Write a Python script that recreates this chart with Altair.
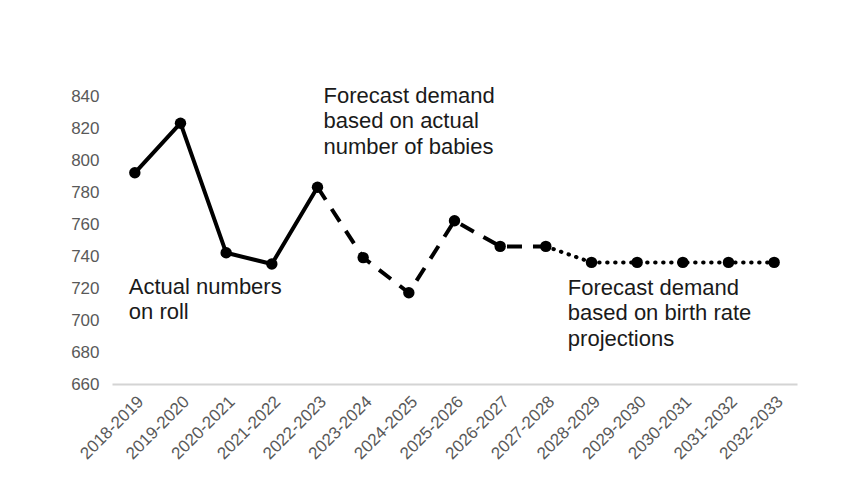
import altair as alt
import pandas as pd

years = ["2018-2019", "2019-2020", "2020-2021", "2021-2022", "2022-2023",
         "2023-2024", "2024-2025", "2025-2026", "2026-2027", "2027-2028",
         "2028-2029", "2029-2030", "2030-2031", "2031-2032", "2032-2033"]
values = [792, 823, 742, 735, 783, 739, 717, 762, 746, 746, 736, 736, 736, 736, 736]

solid_idx = [0, 1, 2, 3, 4]
dashed_idx = [4, 5, 6, 7, 8, 9]
dotted_idx = [9, 10, 11, 12, 13, 14]

ann_text = [["Actual numbers", "on roll"],
            ["Forecast demand", "based on actual", "number of babies"],
            ["Forecast demand", "based on birth rate", "projections"]]
ann_x = ["2018-2019", "2022-2023", "2027-2028"]
ann_y = [727, 846.5, 726.5]
ann_dx = [-6, 6, 22]

df = pd.DataFrame({"year": years, "value": values})

def seg(idx):
    return df.iloc[idx].reset_index(drop=True)

xenc = alt.X("year:N", sort=years, title=None,
             scale=alt.Scale(paddingInner=0, paddingOuter=0),
             axis=alt.Axis(labelAngle=-45, labelFontSize=17, labelColor="#595959",
                           labelFont="Liberation Sans", ticks=False, labelPadding=9,
                           labelOverlap=False,
                           domainColor="#d4d4d4", domainWidth=2, grid=False))
yenc = alt.Y("value:Q", title=None,
             scale=alt.Scale(domain=[660, 840], nice=False, zero=False),
             axis=alt.Axis(values=list(range(660, 841, 20)), labelFontSize=17,
                           labelColor="#595959", labelFont="Liberation Sans",
                           labelOverlap=False,
                           ticks=False, domain=False, grid=False, labelPadding=13))

base_line = dict(color="#000000", strokeWidth=4)

solid = alt.Chart(seg(solid_idx)).mark_line(**base_line, strokeJoin="round").encode(x=xenc, y=yenc)
dashed = alt.Chart(seg(dashed_idx)).mark_line(**base_line, strokeDash=[15, 11]).encode(x=xenc, y=yenc)
dotted = alt.Chart(seg(dotted_idx)).mark_line(**base_line, strokeDash=[0.5, 7.5], strokeCap="round").encode(x=xenc, y=yenc)
points = alt.Chart(df).mark_point(filled=True, size=130, color="#000000", opacity=1).encode(x=xenc, y=yenc)

texts = []
for t, xv, yv, dx in zip(ann_text, ann_x, ann_y, ann_dx):
    tdf = pd.DataFrame({"year": [xv], "value": [yv], "label": ["\n".join(t)]})
    texts.append(
        alt.Chart(tdf).mark_text(align="left", baseline="top", dx=dx, fontSize=22,
                                 font="Liberation Sans", color="#1a1a1a",
                                 lineBreak="\n", lineHeight=25.5)
        .encode(x=xenc, y=yenc, text="label:N")
    )

chart = alt.layer(solid, dashed, dotted, points, *texts).properties(
    width=685, height=288,
    background="white",
    autosize=alt.AutoSizeParams(type="none"),
    padding={"left": 104, "top": 88, "right": 45, "bottom": 100},
).configure_view(stroke="transparent", strokeWidth=0)

chart.save("out.html", embed_options={"renderer": "svg", "actions": False})
